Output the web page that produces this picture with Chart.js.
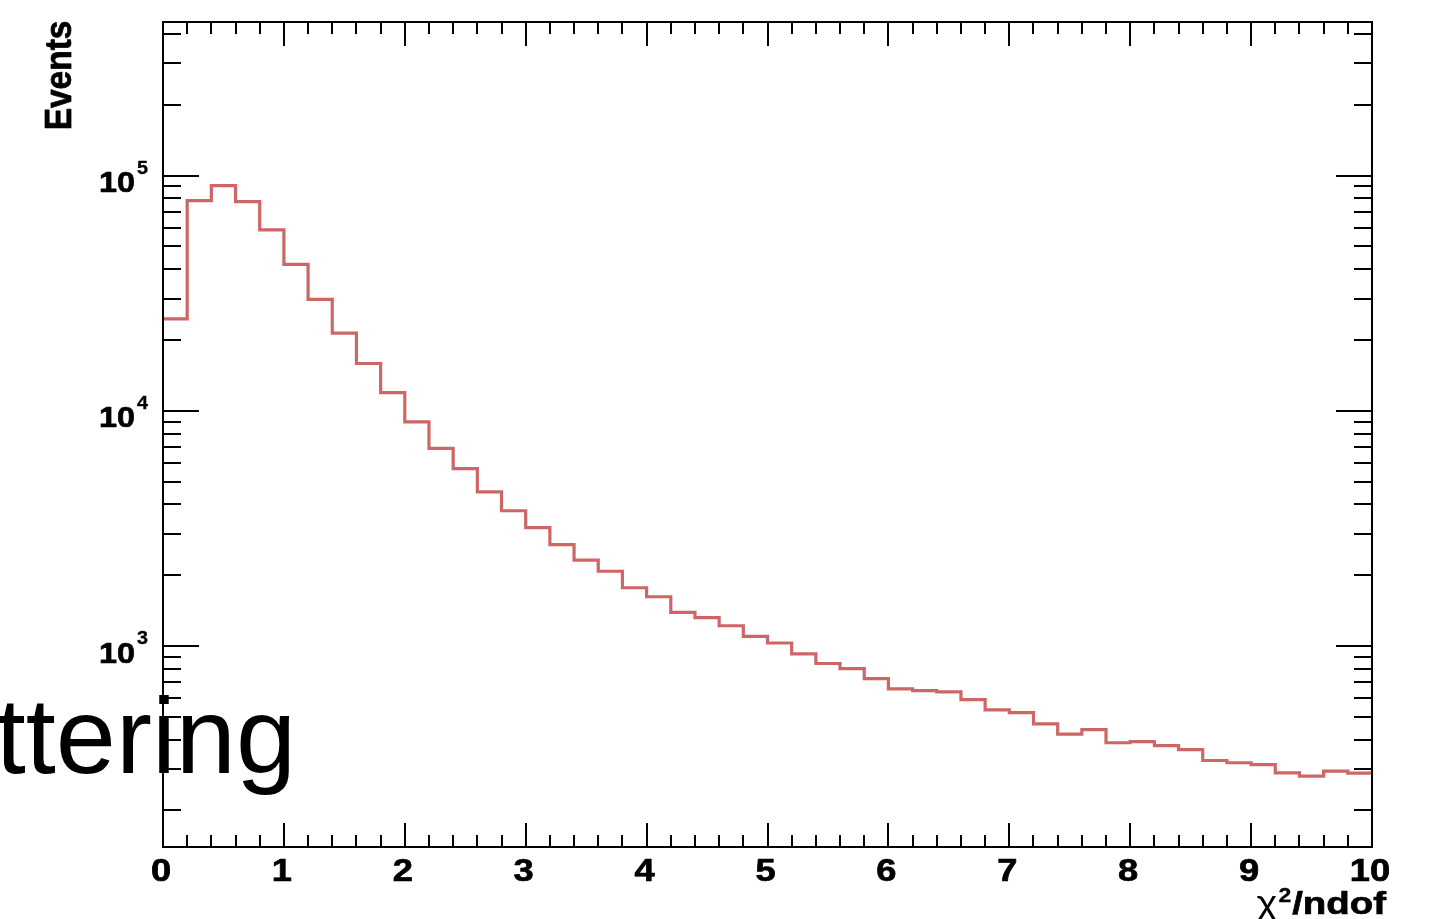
<!DOCTYPE html>
<html>
<head>
<meta charset="utf-8">
<title>chi2/ndof distribution</title>
<script src="https://cdn.jsdelivr.net/npm/chart.js@4/dist/chart.umd.min.js"></script>
<style>
  html, body { margin: 0; padding: 0; background: #ffffff; overflow: hidden; }
  #wrap { width: 1446px; height: 919px; position: relative; }
  canvas { display: block; }
</style>
</head>
<body>
<div id="wrap"><canvas id="hist" width="1446" height="919"></canvas></div>
<script>
// ---- histogram contents: 50 bins of chi2/ndof between 0 and 10 ----
const binEdges = [
  0.0, 0.2, 0.4, 0.6, 0.8, 1.0, 1.2, 1.4, 1.6, 1.8,
  2.0, 2.2, 2.4, 2.6, 2.8, 3.0, 3.2, 3.4, 3.6, 3.8,
  4.0, 4.2, 4.4, 4.6, 4.8, 5.0, 5.2, 5.4, 5.6, 5.8,
  6.0, 6.2, 6.4, 6.6, 6.8, 7.0, 7.2, 7.4, 7.6, 7.8,
  8.0, 8.2, 8.4, 8.6, 8.8, 9.0, 9.2, 9.4, 9.6, 9.8,
  10.0
];
const binCounts = [
  24600, 78300, 90700, 77500, 58800, 42000, 29800, 21400, 15900, 11950,
  8970, 6930, 5680, 4520, 3760, 3190, 2700, 2320, 2080, 1770,
  1620, 1390, 1320, 1220, 1100, 1030, 927, 843, 801, 727,
  657, 646, 638, 592, 535, 521, 467, 422, 441, 388,
  392, 377, 363, 326, 319, 313, 289, 280, 294, 288
];

// ---- axis tick labels ----
const xTickValues = [0, 1, 2, 3, 4, 5, 6, 7, 8, 9, 10];
const xTickLabels = ['0', '1', '2', '3', '4', '5', '6', '7', '8', '9', '10'];
const yDecadeValues = [1e3, 1e4, 1e5];
const yDecadeExponents = ['3', '4', '5'];

// ---- axis ranges and titles ----
const xRange = [0, 10];
const yRange = [139.8, 4.503e5];
const yTitle = 'Events';
const xTitleSymbol = '\u03C7';
const xTitleSup = '2';
const xTitleRest = '/ndof';
const overlayText = 'ttering';

const histColor = 'rgb(206,102,102)';
const FONT = '"Liberation Sans", Arial, Helvetica, sans-serif';
const WIDE = 1.17;   // the bold axis font is set a little wider than Liberation Sans Bold

// step-histogram points: every bin's content placed at its lower edge,
// plus a closing point at the upper edge of the last bin
const histPoints = binEdges.map((x, i) => ({ x: x, y: binCounts[Math.min(i, binCounts.length - 1)] }));

// text drawn with an optional horizontal stretch and a thin outline for extra weight
function stretchedText(ctx, str, x, y, font, align, sx, heavy) {
  ctx.save();
  ctx.translate(x, y);
  ctx.scale(sx, 1);
  ctx.font = font;
  ctx.textAlign = align;
  ctx.textBaseline = 'alphabetic';
  ctx.fillText(str, 0, 0);
  if (heavy) {
    ctx.lineWidth = heavy;
    ctx.strokeStyle = '#000';
    ctx.lineJoin = 'round';
    ctx.strokeText(str, 0, 0);
  }
  const w = ctx.measureText(str).width * sx;
  ctx.restore();
  return w;
}

// ROOT-style frame: inward ticks on all four sides, bold labels
const frameAxes = {
  id: 'frameAxes',
  afterDatasetsDraw(chart) {
    const ctx = chart.ctx;
    const xs = chart.scales.x, ys = chart.scales.y;
    const a = chart.chartArea;
    ctx.save();
    ctx.strokeStyle = '#000';
    ctx.lineWidth = 2;
    ctx.lineCap = 'butt';

    // frame
    ctx.beginPath();
    ctx.rect(a.left, a.top, a.right - a.left, a.bottom - a.top);
    ctx.stroke();

    // x ticks (bottom + top): major every 1, minor every 0.2
    ctx.beginPath();
    for (let k = 0; k <= 50; k++) {
      const v = k * 0.2;
      const px = Math.round(xs.getPixelForValue(v));
      const len = (k % 5 === 0) ? 24 : 12;
      ctx.moveTo(px, a.bottom); ctx.lineTo(px, a.bottom - len);
      ctx.moveTo(px, a.top); ctx.lineTo(px, a.top + len);
    }
    // y ticks (left + right): decades long, 2..9 short
    for (let d = 100; d <= 1e6; d *= 10) {
      for (let m = 1; m <= 9; m++) {
        const v = m * d;
        if (v < yRange[0] || v > yRange[1]) continue;
        const py = Math.round(ys.getPixelForValue(v));
        const len = (m === 1) ? 36 : 18;
        ctx.moveTo(a.left, py); ctx.lineTo(a.left + len, py);
        ctx.moveTo(a.right, py); ctx.lineTo(a.right - len, py);
      }
    }
    ctx.stroke();

    ctx.fillStyle = '#000';
    // x tick labels
    xTickValues.forEach((v, i) => {
      stretchedText(ctx, xTickLabels[i], xs.getPixelForValue(v) - 2, a.bottom + 34,
        'bold 31px ' + FONT, 'center', WIDE, 0.7);
    });

    // y tick labels: 10 with exponent
    yDecadeValues.forEach((v, i) => {
      const py = ys.getPixelForValue(v);
      stretchedText(ctx, '10', 135, py + 16.5, 'bold 30px ' + FONT, 'right', 1.08, 0.7);
      stretchedText(ctx, yDecadeExponents[i], 137, py - 2, 'bold 18px ' + FONT, 'left', 1.1, 0.3);
    });

    // y title, rotated, aligned to the top end of the axis
    ctx.save();
    ctx.translate(71, 20.5);
    ctx.scale(1.1, 1);
    ctx.rotate(-Math.PI / 2);
    ctx.font = 'bold 33.5px ' + FONT;
    ctx.textAlign = 'right';
    ctx.textBaseline = 'alphabetic';
    ctx.fillText(yTitle, 0, 0);
    ctx.lineWidth = 0.7;
    ctx.lineJoin = 'round';
    ctx.strokeText(yTitle, 0, 0);
    ctx.restore();

    // x title, right aligned at the end of the axis
    let xr = 1386;
    const base = 914;
    xr -= stretchedText(ctx, xTitleRest, xr, base, 'bold 32px ' + FONT, 'right', 1.2, 0.7);
    xr -= stretchedText(ctx, xTitleSup, xr - 1, base - 12, 'bold 20px ' + FONT, 'right', 1.15, 0.3) + 2;
    stretchedText(ctx, xTitleSymbol, xr, base, '33px ' + FONT, 'right', 1.2, 0);
    ctx.restore();
  },
  afterDraw(chart) {
    const ctx = chart.ctx;
    ctx.save();
    ctx.fillStyle = '#000';
    ctx.font = '108px ' + FONT;
    ctx.textAlign = 'right';
    ctx.textBaseline = 'alphabetic';
    ctx.fillText(overlayText, 296, 773);
    ctx.restore();
  }
};

new Chart(document.getElementById('hist'), {
  type: 'line',
  data: {
    datasets: [{
      label: 'chi2/ndof',
      data: histPoints,
      stepped: 'before',
      borderColor: histColor,
      borderWidth: 3.2,
      pointRadius: 0,
      fill: false,
      tension: 0
    }]
  },
  options: {
    responsive: false,
    animation: false,
    devicePixelRatio: 1,
    layout: { padding: { left: 163, right: 74, top: 22, bottom: 72 } },
    plugins: { legend: { display: false }, tooltip: { enabled: false } },
    scales: {
      x: { type: 'linear', min: xRange[0], max: xRange[1], display: false },
      y: { type: 'logarithmic', min: yRange[0], max: yRange[1], display: false }
    }
  },
  plugins: [frameAxes]
});
</script>
</body>
</html>
